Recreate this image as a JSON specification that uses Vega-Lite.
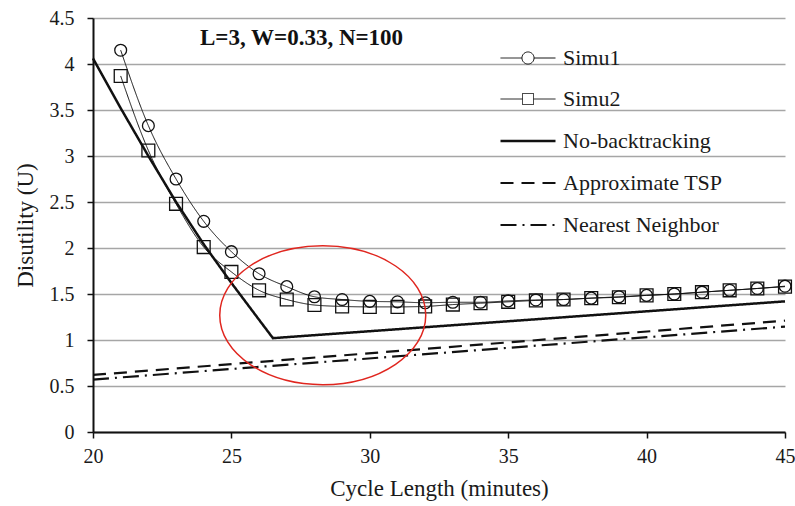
{
  "$schema": "https://vega.github.io/schema/vega-lite/v6.json",
  "width": 692,
  "height": 414,
  "autosize": "none",
  "padding": {"left": 93, "top": 18, "right": 10, "bottom": 74},
  "background": "white",
  "title": {"text": "L=3, W=0.33, N=100", "anchor": "start", "frame": "group", "dx": 107, "offset": -42, "font": "Liberation Serif", "fontSize": 23, "fontWeight": "bold", "color": "#111"},
  "config": {
    "view": {"stroke": null},
    "axis": {"labelFont": "Liberation Serif", "titleFont": "Liberation Serif", "labelFontSize": 20, "titleFontSize": 23, "titleFontWeight": "normal", "labelColor": "#1a1a1a", "titleColor": "#1a1a1a", "domainColor": "#111", "domainWidth": 2, "tickColor": "#111", "tickWidth": 1.5, "tickSize": 6, "labelFlush": false},
    "legend": {"labelFont": "Liberation Serif", "labelFontSize": 22, "labelColor": "#1a1a1a", "symbolSize": 3025, "symbolStrokeColor": "#111", "labelOffset": 6, "rowPadding": 2, "symbolType": "stroke"}
  },
  "datasets": {
    "curves": [
      {"series": "Simu1", "x": 21, "y": 4.15}, {"series": "Simu1", "x": 22, "y": 3.33}, {"series": "Simu1", "x": 23, "y": 2.75}, {"series": "Simu1", "x": 24, "y": 2.29}, {"series": "Simu1", "x": 25, "y": 1.96}, {"series": "Simu1", "x": 26, "y": 1.72}, {"series": "Simu1", "x": 27, "y": 1.58}, {"series": "Simu1", "x": 28, "y": 1.47}, {"series": "Simu1", "x": 29, "y": 1.44}, {"series": "Simu1", "x": 30, "y": 1.42}, {"series": "Simu1", "x": 31, "y": 1.415}, {"series": "Simu1", "x": 32, "y": 1.405}, {"series": "Simu1", "x": 33, "y": 1.41}, {"series": "Simu1", "x": 34, "y": 1.41}, {"series": "Simu1", "x": 35, "y": 1.425}, {"series": "Simu1", "x": 36, "y": 1.435}, {"series": "Simu1", "x": 37, "y": 1.44}, {"series": "Simu1", "x": 38, "y": 1.455}, {"series": "Simu1", "x": 39, "y": 1.47}, {"series": "Simu1", "x": 40, "y": 1.485}, {"series": "Simu1", "x": 41, "y": 1.5}, {"series": "Simu1", "x": 42, "y": 1.52}, {"series": "Simu1", "x": 43, "y": 1.54}, {"series": "Simu1", "x": 44, "y": 1.56}, {"series": "Simu1", "x": 45, "y": 1.585},
      {"series": "Simu2", "x": 21, "y": 3.87}, {"series": "Simu2", "x": 22, "y": 3.06}, {"series": "Simu2", "x": 23, "y": 2.48}, {"series": "Simu2", "x": 24, "y": 2.01}, {"series": "Simu2", "x": 25, "y": 1.74}, {"series": "Simu2", "x": 26, "y": 1.54}, {"series": "Simu2", "x": 27, "y": 1.44}, {"series": "Simu2", "x": 28, "y": 1.38}, {"series": "Simu2", "x": 29, "y": 1.365}, {"series": "Simu2", "x": 30, "y": 1.36}, {"series": "Simu2", "x": 31, "y": 1.36}, {"series": "Simu2", "x": 32, "y": 1.365}, {"series": "Simu2", "x": 33, "y": 1.385}, {"series": "Simu2", "x": 34, "y": 1.4}, {"series": "Simu2", "x": 35, "y": 1.415}, {"series": "Simu2", "x": 36, "y": 1.43}, {"series": "Simu2", "x": 37, "y": 1.44}, {"series": "Simu2", "x": 38, "y": 1.455}, {"series": "Simu2", "x": 39, "y": 1.465}, {"series": "Simu2", "x": 40, "y": 1.485}, {"series": "Simu2", "x": 41, "y": 1.5}, {"series": "Simu2", "x": 42, "y": 1.52}, {"series": "Simu2", "x": 43, "y": 1.54}, {"series": "Simu2", "x": 44, "y": 1.56}, {"series": "Simu2", "x": 45, "y": 1.58},
      {"series": "No-backtracking", "x": 20, "y": 4.06}, {"series": "No-backtracking", "x": 21, "y": 3.52}, {"series": "No-backtracking", "x": 22, "y": 3.0}, {"series": "No-backtracking", "x": 23, "y": 2.5}, {"series": "No-backtracking", "x": 24, "y": 2.04}, {"series": "No-backtracking", "x": 25, "y": 1.62}, {"series": "No-backtracking", "x": 26, "y": 1.22}, {"series": "No-backtracking", "x": 26.5, "y": 1.02}, {"series": "No-backtracking", "x": 45, "y": 1.42},
      {"series": "Approximate TSP", "x": 20, "y": 0.62}, {"series": "Approximate TSP", "x": 45, "y": 1.21},
      {"series": "Nearest Neighbor", "x": 20, "y": 0.57}, {"series": "Nearest Neighbor", "x": 45, "y": 1.145}
    ],
    "marker": [{"x": 28.3, "y": 1.27}]
  },
  "encoding": {
    "x": {"field": "x", "type": "quantitative", "scale": {"domain": [20, 45], "nice": false}, "axis": {"values": [20, 25, 30, 35, 40, 45], "grid": false, "title": "Cycle Length (minutes)", "labelPadding": 8, "titlePadding": 11}},
    "y": {"field": "y", "type": "quantitative", "scale": {"domain": [0, 4.5], "nice": false}, "axis": {"values": [0, 0.5, 1, 1.5, 2, 2.5, 3, 3.5, 4, 4.5], "format": "~g", "grid": true, "gridColor": "#a6a6a6", "gridWidth": 1.6, "title": "Disutility (U)", "labelPadding": 13, "titlePadding": 12}}
  },
  "layer": [
    {
      "data": {"name": "curves"},
      "transform": [{"filter": "datum.series !== 'Simu1' && datum.series !== 'Simu2'"}],
      "mark": {"type": "line", "color": "#111", "interpolate": "linear"},
      "encoding": {
        "detail": {"field": "series"},
        "strokeDash": {"field": "series", "type": "nominal", "scale": {"domain": ["Simu1", "Simu2", "No-backtracking", "Approximate TSP", "Nearest Neighbor"], "range": [[1, 0], [1, 0], [1, 0], [13, 8], [16, 6, 2, 6]]},
          "legend": {"title": null, "orient": "none", "legendX": 406, "legendY": 12,
            "encode": {"symbols": {"update": {
              "shape": {"signal": "datum.value === 'Simu1' ? 'M-1,0L-0.22,0M0.22,0A0.22,0.22,0,1,1,-0.22,0A0.22,0.22,0,1,1,0.22,0M0.22,0L1,0' : datum.value === 'Simu2' ? 'M-1,0L-0.2,0M-0.2,-0.2L0.2,-0.2L0.2,0.2L-0.2,0.2ZM0.2,0L1,0' : 'stroke'"}
            }}}}},
        "strokeWidth": {"field": "series", "type": "nominal", "scale": {"type": "ordinal", "domain": ["Simu1", "Simu2", "No-backtracking", "Approximate TSP", "Nearest Neighbor"], "range": [1, 1, 2.5, 2.2, 2.2]}}
      }
    },
    {
      "data": {"name": "curves"},
      "transform": [{"filter": "datum.series === 'Simu1' || datum.series === 'Simu2'"}],
      "mark": {"type": "line", "color": "#111", "interpolate": "monotone"},
      "encoding": {
        "detail": {"field": "series"},
        "strokeDash": {"field": "series", "type": "nominal", "scale": {"domain": ["Simu1", "Simu2", "No-backtracking", "Approximate TSP", "Nearest Neighbor"], "range": [[1, 0], [1, 0], [1, 0], [13, 8], [16, 6, 2, 6]]}},
        "strokeWidth": {"field": "series", "type": "nominal", "scale": {"type": "ordinal", "domain": ["Simu1", "Simu2", "No-backtracking", "Approximate TSP", "Nearest Neighbor"], "range": [1, 1, 2.5, 2.2, 2.2]}}
      }
    },
    {
      "data": {"name": "curves"},
      "transform": [{"filter": "datum.series === 'Simu1' || datum.series === 'Simu2'"}],
      "mark": {"type": "point", "filled": false, "color": "#111", "strokeWidth": 1.3, "opacity": 1},
      "encoding": {
        "shape": {"field": "series", "type": "nominal", "scale": {"domain": ["Simu1", "Simu2"], "range": ["circle", "square"]}, "legend": null},
        "size": {"field": "series", "type": "nominal", "scale": {"type": "ordinal", "domain": ["Simu1", "Simu2"], "range": [140, 165]}, "legend": null}
      }
    },
    {
      "data": {"name": "marker"},
      "mark": {"type": "point", "filled": false, "color": "#e0261f", "strokeWidth": 1.5, "opacity": 1, "size": 42436, "shape": "M-1,0A1,0.675,0,1,1,1,0A1,0.675,0,1,1,-1,0Z"},
      "encoding": {}
    }
  ],
  "resolve": {"scale": {"shape": "independent", "size": "independent"}}
}
